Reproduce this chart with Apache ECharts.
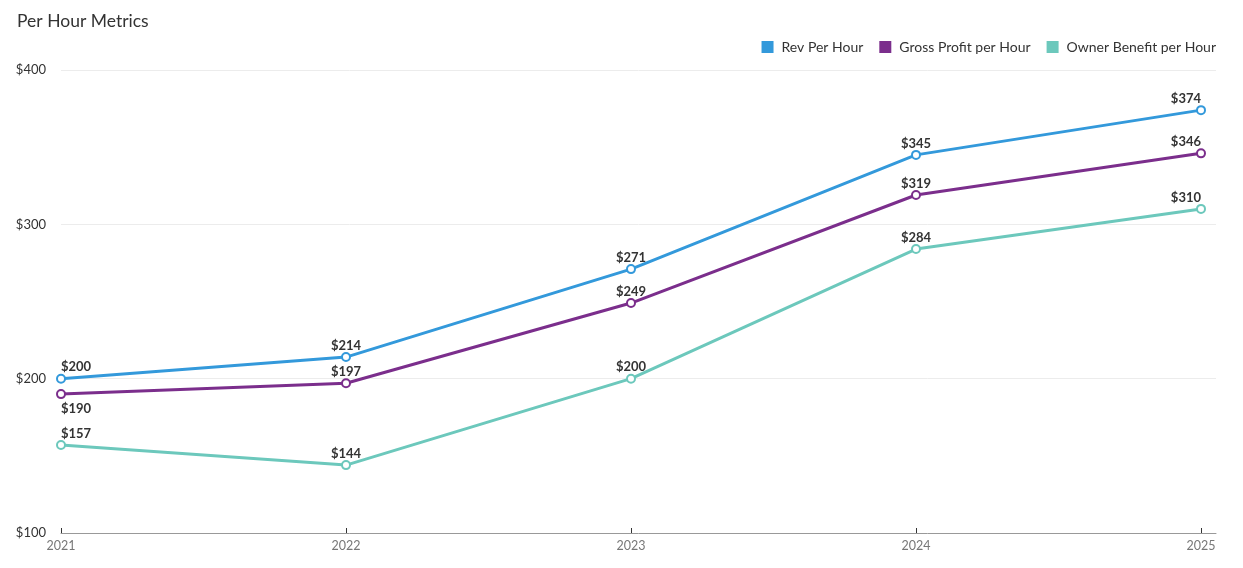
<!DOCTYPE html>
<html>
<head>
<meta charset="utf-8">
<script src="https://cdn.jsdelivr.net/npm/echarts@6/dist/echarts.min.js"></script>
<style>html,body{margin:0;padding:0;background:#fff}#c{width:1243px;height:568px}</style>
</head>
<body>
<div id="c"></div>
<script>
const years = [2021, 2022, 2023, 2024, 2025];
const revPerHour = [200, 214, 271, 345, 374];
const grossProfitPerHour = [190, 197, 249, 319, 346];
const ownerBenefitPerHour = [157, 144, 200, 284, 310];
const yTicks = [100, 200, 300, 400];
const seriesNames = ['Rev Per Hour', 'Gross Profit per Hour', 'Owner Benefit per Hour'];
const colors = ['#3399db', '#7b2e8c', '#6cc8bc'];

const FONT = 'Lato, "Open Sans", sans-serif';
function mk(name, vals, color, belowIdx) {
  const last = vals.length - 1;
  return {
    name, type: 'line',
    data: vals.map((v, i) => {
      const d = { value: [years[i], v] };
      const lab = {};
      if (i === 0) lab.align = 'left';
      if (i === last) lab.align = 'right';
      if (belowIdx && belowIdx.includes(i)) { lab.position = 'bottom'; lab.distance = 3; }
      if (Object.keys(lab).length) d.label = lab;
      return d;
    }),
    symbol: 'emptyCircle', symbolSize: 8,
    itemStyle: { color, borderWidth: 2 },
    lineStyle: { width: 3, color },
    label: {
      show: true, position: 'top', distance: 0,
      color: '#333', fontWeight: 'bold', fontSize: 13, fontFamily: FONT,
      formatter: p => '$' + p.value[1]
    },
    emphasis: { disabled: true }
  };
}
const chart = echarts.init(document.getElementById('c'));
chart.setOption({
  animation: false,
  title: { text: 'Per Hour Metrics', left: 12, top: 7,
    textStyle: { fontSize: 17.5, fontWeight: 'normal', color: '#333', fontFamily: FONT } },
  legend: { right: 22, top: 35, itemWidth: 12, itemHeight: 12, itemGap: 16,
    icon: 'rect', data: seriesNames,
    textStyle: { fontSize: 14, color: '#333', fontFamily: FONT, padding: [0, 0, 0, 3] } },
  grid: { left: 61, right: 27, top: 70, bottom: 35 },
  xAxis: {
    type: 'value', min: years[0], max: years[years.length - 1] + 15 / 285,
    interval: 1,
    axisLine: { show: true, lineStyle: { color: '#999' } },
    axisTick: { show: true, inside: true, length: 5, lineStyle: { color: '#333' }, customValues: years },
    axisLabel: { customValues: years, color: '#777', fontSize: 12.5, fontFamily: FONT, margin: 6,
      formatter: v => String(v) },
    splitLine: { show: false }
  },
  yAxis: {
    type: 'value', min: 100, max: 400, interval: 100,
    axisLine: { show: false }, axisTick: { show: false },
    axisLabel: { color: '#333', fontSize: 13, fontFamily: FONT, margin: 15,
      formatter: v => yTicks.includes(v) ? '$' + v : '' },
    splitLine: { lineStyle: { color: '#ececec' } }
  },
  series: [
    mk(seriesNames[0], revPerHour, colors[0]),
    mk(seriesNames[1], grossProfitPerHour, colors[1], [0]),
    mk(seriesNames[2], ownerBenefitPerHour, colors[2])
  ]
});
</script>
</body>
</html>
